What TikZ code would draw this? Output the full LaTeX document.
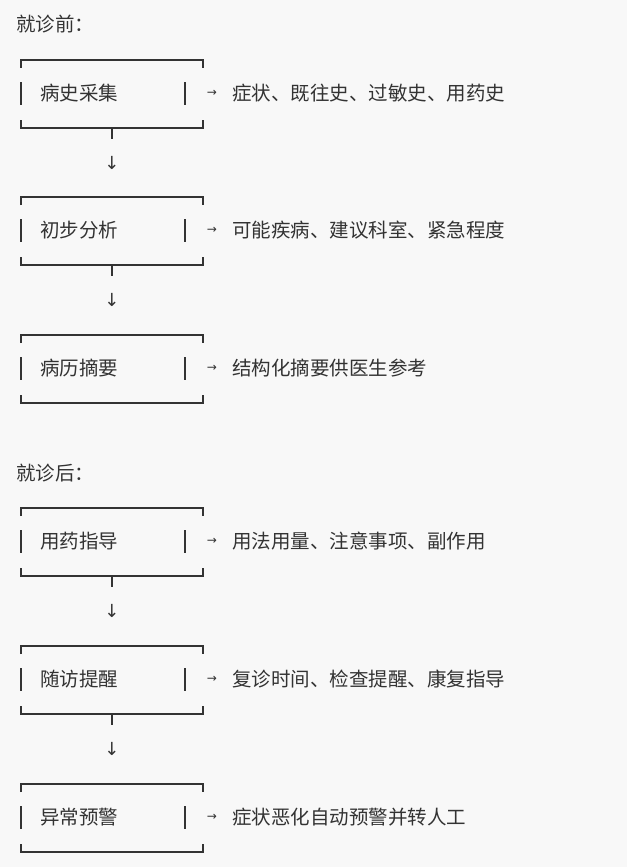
\documentclass[tikz,border=0pt]{standalone}
\usepackage{fontspec}
\newfontfamily\cjk{Noto Sans CJK SC}
\newfontfamily\dv{DejaVu Sans}
\definecolor{bg}{HTML}{F8F8F8}
\definecolor{ink}{HTML}{333333}
\tikzset{
  txt/.style={font=\cjk\fontsize{19.5}{22}\selectfont, text=ink, anchor=west, inner sep=0pt},
  frame/.style={draw=ink, line width=1.4pt},
  rarr/.style={font=\dv\fontsize{12}{14}\selectfont, text=ink, inner sep=0pt},
  darr/.style={font=\dv\fontsize{18}{20}\selectfont, text=ink, inner sep=0pt},
}
\newcommand{\mybox}[4]{%
  \draw[frame] (21,#1+8) -- (21,#1) -- (203,#1) -- (203,#1+8);
  \draw[frame] (21,#1+60) -- (21,#1+68) -- (203,#1+68) -- (203,#1+60);
  \draw[frame] (21,#1+22) -- (21,#1+45);
  \draw[frame] (185,#1+22) -- (185,#1+45);
  \node[txt] (#2) at (40,#1+33) {#3};
  \node[rarr] (#2a) at (212,#1+33) {→};
  \node[txt] (#2d) at (232,#1+33) {#4};
  \coordinate (#2b) at (112,#1+68);
}
\begin{document}
\begin{tikzpicture}[x=1pt,y=-1pt]
\fill[bg] (0,0) rectangle (627,867);
\useasboundingbox (0,0) rectangle (627,867);
\node[txt] (h1) at (16,24) {就诊前：};
\mybox{60}{a}{病史采集}{症状、既往史、过敏史、用药史}
\mybox{197}{b}{初步分析}{可能疾病、建议科室、紧急程度}
\mybox{335}{c}{病历摘要}{结构化摘要供医生参考}
\node[txt] (h2) at (16,473) {就诊后：};
\mybox{508}{d}{用药指导}{用法用量、注意事项、副作用}
\mybox{646}{e}{随访提醒}{复诊时间、检查提醒、康复指导}
\mybox{784}{f}{异常预警}{症状恶化自动预警并转人工}
\draw[frame] (ab) -- ++(0,11); \node[darr] (ab1) at (112,163) {↓};
\draw[frame] (bb) -- ++(0,11); \node[darr] (bc1) at (112,300) {↓};
\draw[frame] (db) -- ++(0,11); \node[darr] (de1) at (112,611) {↓};
\draw[frame] (eb) -- ++(0,11); \node[darr] (ef1) at (112,749) {↓};
\end{tikzpicture}
\end{document}
